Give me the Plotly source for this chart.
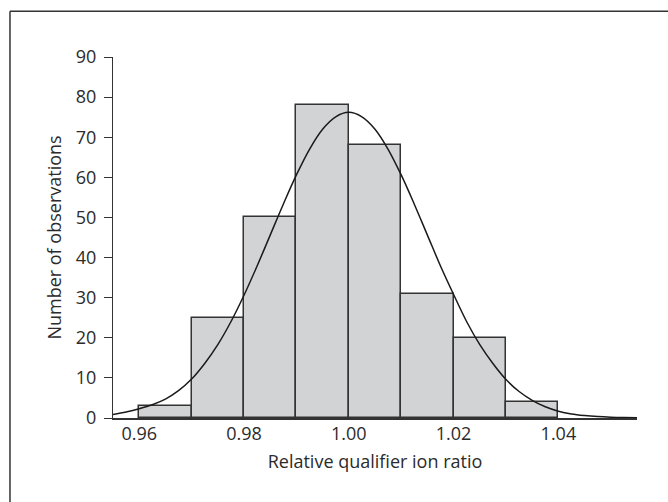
import plotly.graph_objects as go

# Histogram bins (left edges) and counts
bin_left = [0.96, 0.97, 0.98, 0.99, 1.00, 1.01, 1.02, 1.03]
counts = [3, 25, 50, 78, 68, 31, 20, 4]
bin_width = 0.01

# Fitted curve, values
curve_x = [0.955, 0.9575, 0.96, 0.9625, 0.965, 0.9675, 0.97, 0.9725, 0.975, 0.9775,
           0.98, 0.9825, 0.985, 0.9875, 0.99, 0.9925, 0.995, 0.9975, 1.00,
           1.0025, 1.005, 1.0075, 1.01, 1.0125, 1.015, 1.0175, 1.02, 1.0225,
           1.025, 1.0275, 1.03, 1.0325, 1.035, 1.0375, 1.04, 1.0425, 1.045,
           1.0475, 1.05, 1.0525, 1.055]
curve_y = [0.9, 1.5, 2.3, 3.3, 4.7, 6.8, 9.7, 13.6, 18.3, 24.0,
           30.6, 37.9, 45.6, 53.3, 60.6, 67.0, 72.0, 75.1, 76.2,
           75.1, 72.0, 67.0, 60.6, 53.3, 45.6, 37.9, 30.8, 24.0,
           18.3, 13.6, 9.6, 6.6, 4.4, 2.8, 1.7, 1.0, 0.6,
           0.35, 0.2, 0.12, 0.08]

x_ticks = [0.96, 0.98, 1.00, 1.02, 1.04]
x_ticktext = ["0.96", "0.98", "1.00", "1.02", "1.04"]
y_ticks = [0, 10, 20, 30, 40, 50, 60, 70, 80, 90]

bin_centers = [b + bin_width / 2 for b in bin_left]

FONT = "Open Sans"
DARK = "#2b2b2b"

fig = go.Figure()
fig.add_trace(go.Bar(
    x=bin_centers, y=counts, width=[bin_width] * len(counts),
    marker=dict(color="#d1d3d4", line=dict(color="#333333", width=1.5)),
    showlegend=False, hoverinfo="skip",
))
fig.add_trace(go.Scatter(
    x=curve_x, y=curve_y, mode="lines", line=dict(color="#1a1a1a", width=1.5, shape="spline"),
    showlegend=False, hoverinfo="skip", cliponaxis=True,
))

fig.update_layout(
    width=668, height=502,
    margin=dict(l=113, r=31, t=57, b=84),
    paper_bgcolor="white", plot_bgcolor="white",
    font=dict(family=FONT, size=18, color=DARK),
    bargap=0,
    xaxis=dict(
        range=[0.955, 1.055], tickvals=x_ticks, ticktext=x_ticktext,
        ticks="", showline=True, linecolor="#333333", linewidth=1.5,
        showgrid=False, zeroline=False,
        title=dict(text="Relative qualifier ion ratio", font=dict(size=18), standoff=11),
        tickfont=dict(size=18), ticklabelstandoff=-1,
    ),
    yaxis=dict(
        range=[0, 90], tickvals=y_ticks, ticks="outside", ticklen=8, tickwidth=1,
        tickcolor="#333333",
        showline=True, linecolor="#333333", linewidth=1,
        showgrid=False, zeroline=False,
        title=dict(text="Number of observations", font=dict(size=18), standoff=9),
        tickfont=dict(size=18), ticklabelstandoff=4,
    ),
    shapes=[
        dict(type="line", xref="paper", yref="paper", x0=-0.1966, x1=1.1, y0=1.1265, y1=1.1265,
             line=dict(color="#333333", width=1.5)),
        dict(type="line", xref="paper", yref="paper", x0=-0.1966, x1=-0.1966, y0=-0.3, y1=1.1265,
             line=dict(color="#333333", width=1.5)),
    ],
)

fig.write_html("out.html", config={"displayModeBar": False},
               post_script="document.body.style.margin='0';document.body.style.overflow='hidden';")
